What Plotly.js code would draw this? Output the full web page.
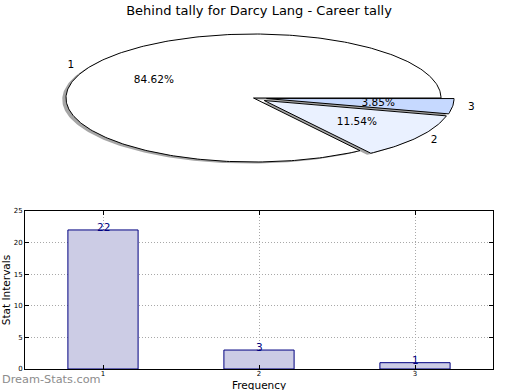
<!DOCTYPE html>
<html>
<head>
<meta charset="utf-8">
<script src="https://cdn.plot.ly/plotly-3.0.1.min.js"></script>
<style>html,body{margin:0;padding:0;background:#fff;}#chart{width:520px;height:390px;}</style>
</head>
<body>
<div id="chart"></div>
<script>
// ---- data ----
const categories = [1, 2, 3];
const counts = [22, 3, 1];
const pieLabels = ['1', '2', '3'];
const explode = [0, 0.07, 0.07];
const pieColors = ['#ffffff', '#eaf1ff', '#c6d9ff'];
const titleText = 'Behind tally for Darcy Lang - Career tally';

const total = counts.reduce((a, b) => a + b, 0);
const font = 'DejaVu Sans, sans-serif';
const traces = [];

// wedge geometry (unit circle in data space, axes scaled to an ellipse)
function wedge(a0, a1, cx, cy) {
  const xs = [cx], ys = [cy];
  const n = Math.max(4, Math.ceil((a1 - a0) / 1));
  for (let i = 0; i <= n; i++) {
    const a = (a0 + (a1 - a0) * i / n) * Math.PI / 180;
    xs.push(cx + Math.cos(a)); ys.push(cy + Math.sin(a));
  }
  xs.push(cx); ys.push(cy);
  return {xs, ys};
}

let start = 0;
const slices = counts.map((v, i) => {
  const sweep = v / total * 360;
  const a0 = start, a1 = start + sweep;
  start = a1;
  const mid = (a0 + a1) / 2 * Math.PI / 180;
  const cx = explode[i] * Math.cos(mid), cy = explode[i] * Math.sin(mid);
  return {a0, a1, mid, cx, cy};
});

// shadows
slices.forEach((s, i) => {
  const w = wedge(s.a0, s.a1, s.cx - 0.02, s.cy - 0.025);
  traces.push({x: w.xs, y: w.ys, xaxis: 'x2', yaxis: 'y2', type: 'scatter', mode: 'lines',
    fill: 'toself', fillcolor: 'rgba(77,77,77,0.5)', line: {width: 0, color: 'rgba(0,0,0,0)'},
    hoverinfo: 'skip', showlegend: false});
});
// wedges
slices.forEach((s, i) => {
  const w = wedge(s.a0, s.a1, s.cx, s.cy);
  traces.push({x: w.xs, y: w.ys, xaxis: 'x2', yaxis: 'y2', type: 'scatter', mode: 'lines',
    fill: 'toself', fillcolor: pieColors[i], line: {width: 1, color: '#000000'},
    name: pieLabels[i], hoverinfo: 'name', showlegend: false});
});
// labels and percentages
traces.push({
  x: slices.map(s => s.cx + 1.1 * Math.cos(s.mid)),
  y: slices.map(s => s.cy + 1.1 * Math.sin(s.mid)),
  text: pieLabels, xaxis: 'x2', yaxis: 'y2', type: 'scatter', mode: 'text',
  textposition: 'middle center', textfont: {family: font, size: 10.5, color: '#000'},
  hoverinfo: 'skip', showlegend: false});
traces.push({
  x: slices.map(s => s.cx + 0.6 * Math.cos(s.mid)),
  y: slices.map(s => s.cy + 0.6 * Math.sin(s.mid)),
  text: counts.map(v => (v / total * 100).toFixed(2) + '%'), xaxis: 'x2', yaxis: 'y2',
  type: 'scatter', mode: 'text', textposition: 'middle center',
  textfont: {family: font, size: 10.5, color: '#000'}, hoverinfo: 'skip', showlegend: false});

// bar chart
traces.push({
  x: categories, y: counts, type: 'bar', width: 0.45, xaxis: 'x', yaxis: 'y',
  marker: {color: '#ccccE5', line: {color: '#000080', width: 1}}, showlegend: false});

const annotations = categories.map((c, i) => ({
  x: c, y: counts[i], xref: 'x', yref: 'y', text: String(counts[i]), showarrow: false,
  yanchor: 'bottom', yshift: -5, font: {family: font, size: 10.5, color: '#000080'}}));
annotations.push({text: 'Dream-Stats.com', xref: 'paper', yref: 'paper', x: -0.0534, y: -0.031,
  xanchor: 'left', yanchor: 'middle', showarrow: false,
  font: {family: font, size: 11.3, color: '#8c8c8c'}});
annotations.push({text: 'Frequency', xref: 'paper', yref: 'paper', x: 0.5, y: -0.046,
  xanchor: 'center', yanchor: 'middle', showarrow: false, borderpad: 0,
  font: {family: font, size: 10.5, color: '#000'}});

const layout = {
  width: 520, height: 390,
  margin: {l: 25, r: 27, t: 20, b: 21},
  paper_bgcolor: '#ffffff', plot_bgcolor: '#ffffff',
  title: {text: titleText, font: {family: font, size: 13, color: '#000'},
    xref: 'paper', x: 0.5, yref: 'container', y: 0.974, yanchor: 'middle'},
  xaxis: {domain: [0, 1], range: [0.5, 3.5], tickvals: categories, ticktext: categories.map(String),
    showline: true, linecolor: '#000', linewidth: 1, mirror: 'ticks', ticks: 'inside', ticklen: 4,
    tickcolor: '#000', showgrid: true, gridcolor: '#a8a8a8', griddash: '1px,2px', gridwidth: 1,
    ticklabelstandoff: -2,
    tickfont: {family: font, size: 7, color: '#000'}, zeroline: false, fixedrange: true},
  yaxis: {domain: [0, 0.4527], range: [0, 25], dtick: 5, anchor: 'x',
    showline: true, linecolor: '#000', linewidth: 1, mirror: 'ticks', ticks: 'inside', ticklen: 4,
    tickcolor: '#000', showgrid: true, gridcolor: '#a8a8a8', griddash: '1px,2px', gridwidth: 1,
    tickfont: {family: font, size: 7, color: '#000'}, zeroline: false, fixedrange: true,
    title: {text: 'Stat Intervals', font: {family: font, size: 10.5, color: '#000'}, standoff: 4}},
  xaxis2: {domain: [0, 1], range: [-1.2187, 1.2773], visible: false, anchor: 'y2', fixedrange: true},
  yaxis2: {domain: [0.5129, 1], range: [-1.4375, 1.219], visible: false, anchor: 'x2', fixedrange: true},
  annotations: annotations
};

Plotly.newPlot('chart', traces, layout, {displayModeBar: false, staticPlot: true});
</script>
</body>
</html>
